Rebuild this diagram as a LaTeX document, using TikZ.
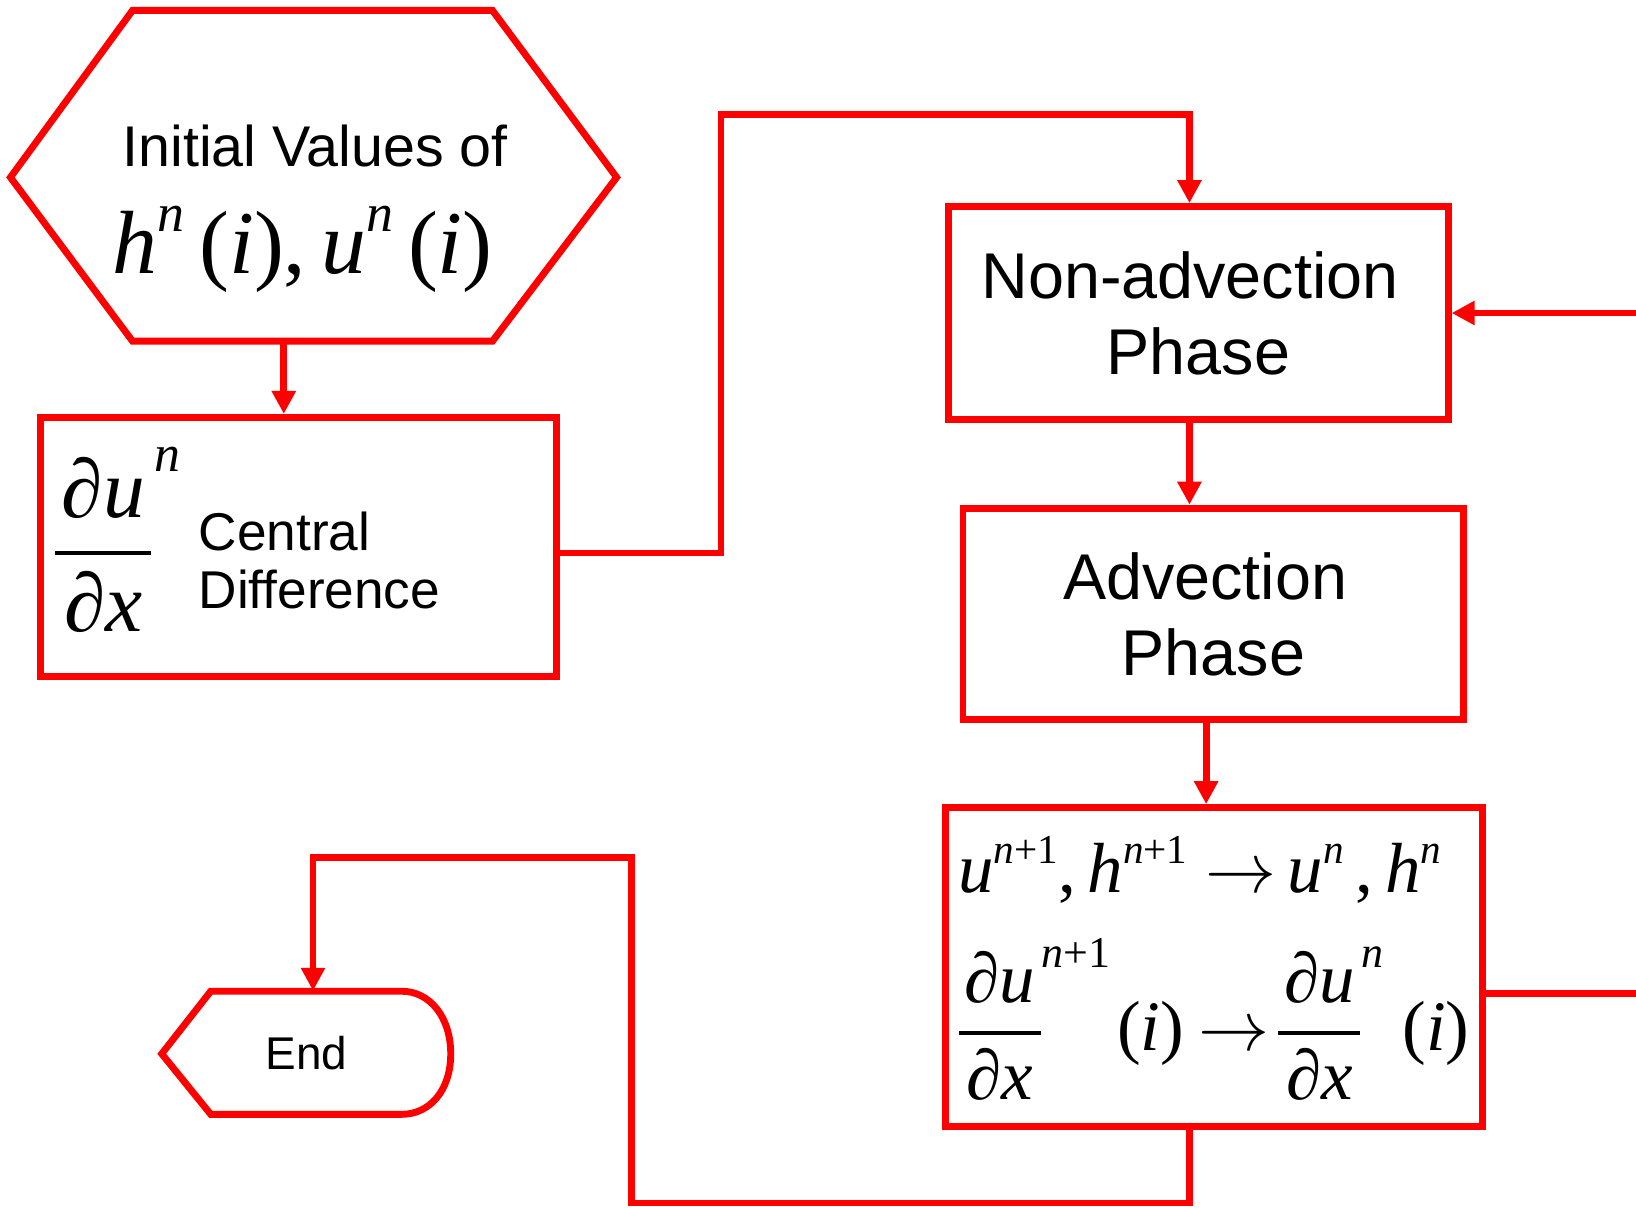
\RequirePackage{fix-cm}
\documentclass[tikz,border=0pt]{standalone}
\usepackage{graphicx}
\usepackage{fontspec}
\setmainfont{Liberation Sans}
\newfontfamily\tms{Liberation Serif}
\usetikzlibrary{arrows.meta}
% superscript helper: raise, scale, content
\newcommand{\sups}[3]{\raisebox{#1}{\scalebox{#2}{#3}}}
\newcommand{\np}{\textit{n}\textup{+1}}
% partial-derivative fraction with superscript placed to the right; #4 = bar thickness
\newcommand{\pdfr}[4]{$\displaystyle{\hbox{\tms\kern0.08em ∂\textit{u}\rlap{\hspace{#2}\sups{#3}{0.62}{#1}}\kern0.08em}\above #4\hbox{\tms ∂\textit{x}}}$}
\begin{document}
\begin{tikzpicture}[x=0.5pt,y=-0.5pt,
  flow/.style={draw=red, line width=3.3pt},
  arr/.style={draw=red, line width=3.3pt, -{Triangle[length=11pt,width=11pt]}},
  stepbox/.style={flow, rectangle, inner sep=0pt, align=center, font=\fontsize{31}{36.5}\selectfont},
  lbl/.style={inner sep=0pt}]
\useasboundingbox (0,0) rectangle (1568,1157);
\clip (0,0) rectangle (1568,1157);
% start hexagon
\draw[flow] (10,170) -- (127,10) -- (472,10) -- (591,170) -- (472,327) -- (127,327) -- cycle;
\node[lbl, anchor=base, font=\fontsize{27.5}{30}\selectfont] (hexT) at (302,160) {Initial Values of};
\node[lbl, anchor=base, font=\fontsize{43}{48}\tms\selectfont] (hexM) at (290,262)
  {\textit{h}\sups{0.47em}{0.6}{\textit{n}}\,(\textit{i}),\,\textit{u}\sups{0.47em}{0.6}{\textit{n}}\,(\textit{i})};
\coordinate (hexbot) at (272,327);
% boxes
\node[stepbox, minimum width=247pt, minimum height=124pt] (box1) at (286,524) {};
\node[stepbox, minimum width=239.5pt, minimum height=102pt] (box2) at (1148.5,300) {Non-advection\hspace*{8pt}\\Phase};
\node[stepbox, minimum width=240pt, minimum height=101.5pt] (box3) at (1163,588.5) {Advection\hspace*{8pt}\\Phase};
\node[stepbox, minimum width=257.5pt, minimum height=153pt] (box4) at (1163.5,927) {};
% box1 contents
\node[lbl, anchor=base west, font=\fontsize{40}{44}\selectfont] (du) at (50,550) {\pdfr{\textit{n}}{0.12em}{0.55em}{2pt}};
\node[lbl, anchor=base west, font=\fontsize{25.5}{28}\selectfont] (cd1) at (190,528) {Central};
\node[lbl, anchor=base west, font=\fontsize{25.5}{28}\selectfont] (cd2) at (190,583) {Difference};
% box4 contents
\node[lbl, anchor=base west, font=\fontsize{34}{38}\tms\selectfont] (l1) at (918,855)
  {\textit{u}\sups{0.4em}{0.58}{\np},\,\textit{h}\sups{0.4em}{0.58}{\np}\hspace{0.25em}$\rightarrow$\,\textit{u}\sups{0.4em}{0.58}{\textit{n}}\,,\,\textit{h}\sups{0.4em}{0.58}{\textit{n}}};
\node[lbl, anchor=base west, font=\fontsize{34}{38}\tms\selectfont] (l2) at (916,1007)
  {\pdfr{\np}{0.1em}{0.5em}{1.8pt}\hspace{35.5pt}(\textit{i})\hspace{7pt}$\rightarrow$\hspace{3pt}\pdfr{\textit{n}}{0.1em}{0.5em}{1.8pt}\hspace{19pt}(\textit{i})};
% end terminal
\draw[flow] (155,1010) -- (202,950) -- (385,950) .. controls (412,950) and (432,975) .. (432,1010) .. controls (432,1045) and (412,1068) .. (385,1068) -- (202,1068) -- cycle;
\node[lbl, minimum width=138.5pt, minimum height=59pt, font=\fontsize{22}{24}\selectfont] (endn) at (293.5,1009) {End};
% coordinates for connectors
\coordinate (j1) at (691,110);
\coordinate (j2) at (1140,110);
\coordinate (c3) at (1156,0);
\coordinate (loopR) at (1620,600);
\coordinate (b1) at (1140,1153);
\coordinate (b2) at (605,1153);
\coordinate (b3) at (605,822);
\coordinate (b4) at (300,822);
% connectors
\draw[arr] (hexbot) -- (hexbot |- box1.north);
\draw[arr] ([yshift=-3pt]box1.east) -| (j1) -- (j2) -- (j2 |- box2.north);
\draw[arr] (j2 |- box2.south) -- (j2 |- box3.north);
\draw[arr] (c3 |- box3.south) -- (c3 |- box4.north);
\draw[arr] ([yshift=-12.5pt]box4.east) -| (loopR) |- (box2.east);
\draw[arr] (b1 |- box4.south) -- (b1) -- (b2) -- (b3) -- (b4) -- (b4 |- endn.north);
\end{tikzpicture}
\end{document}
